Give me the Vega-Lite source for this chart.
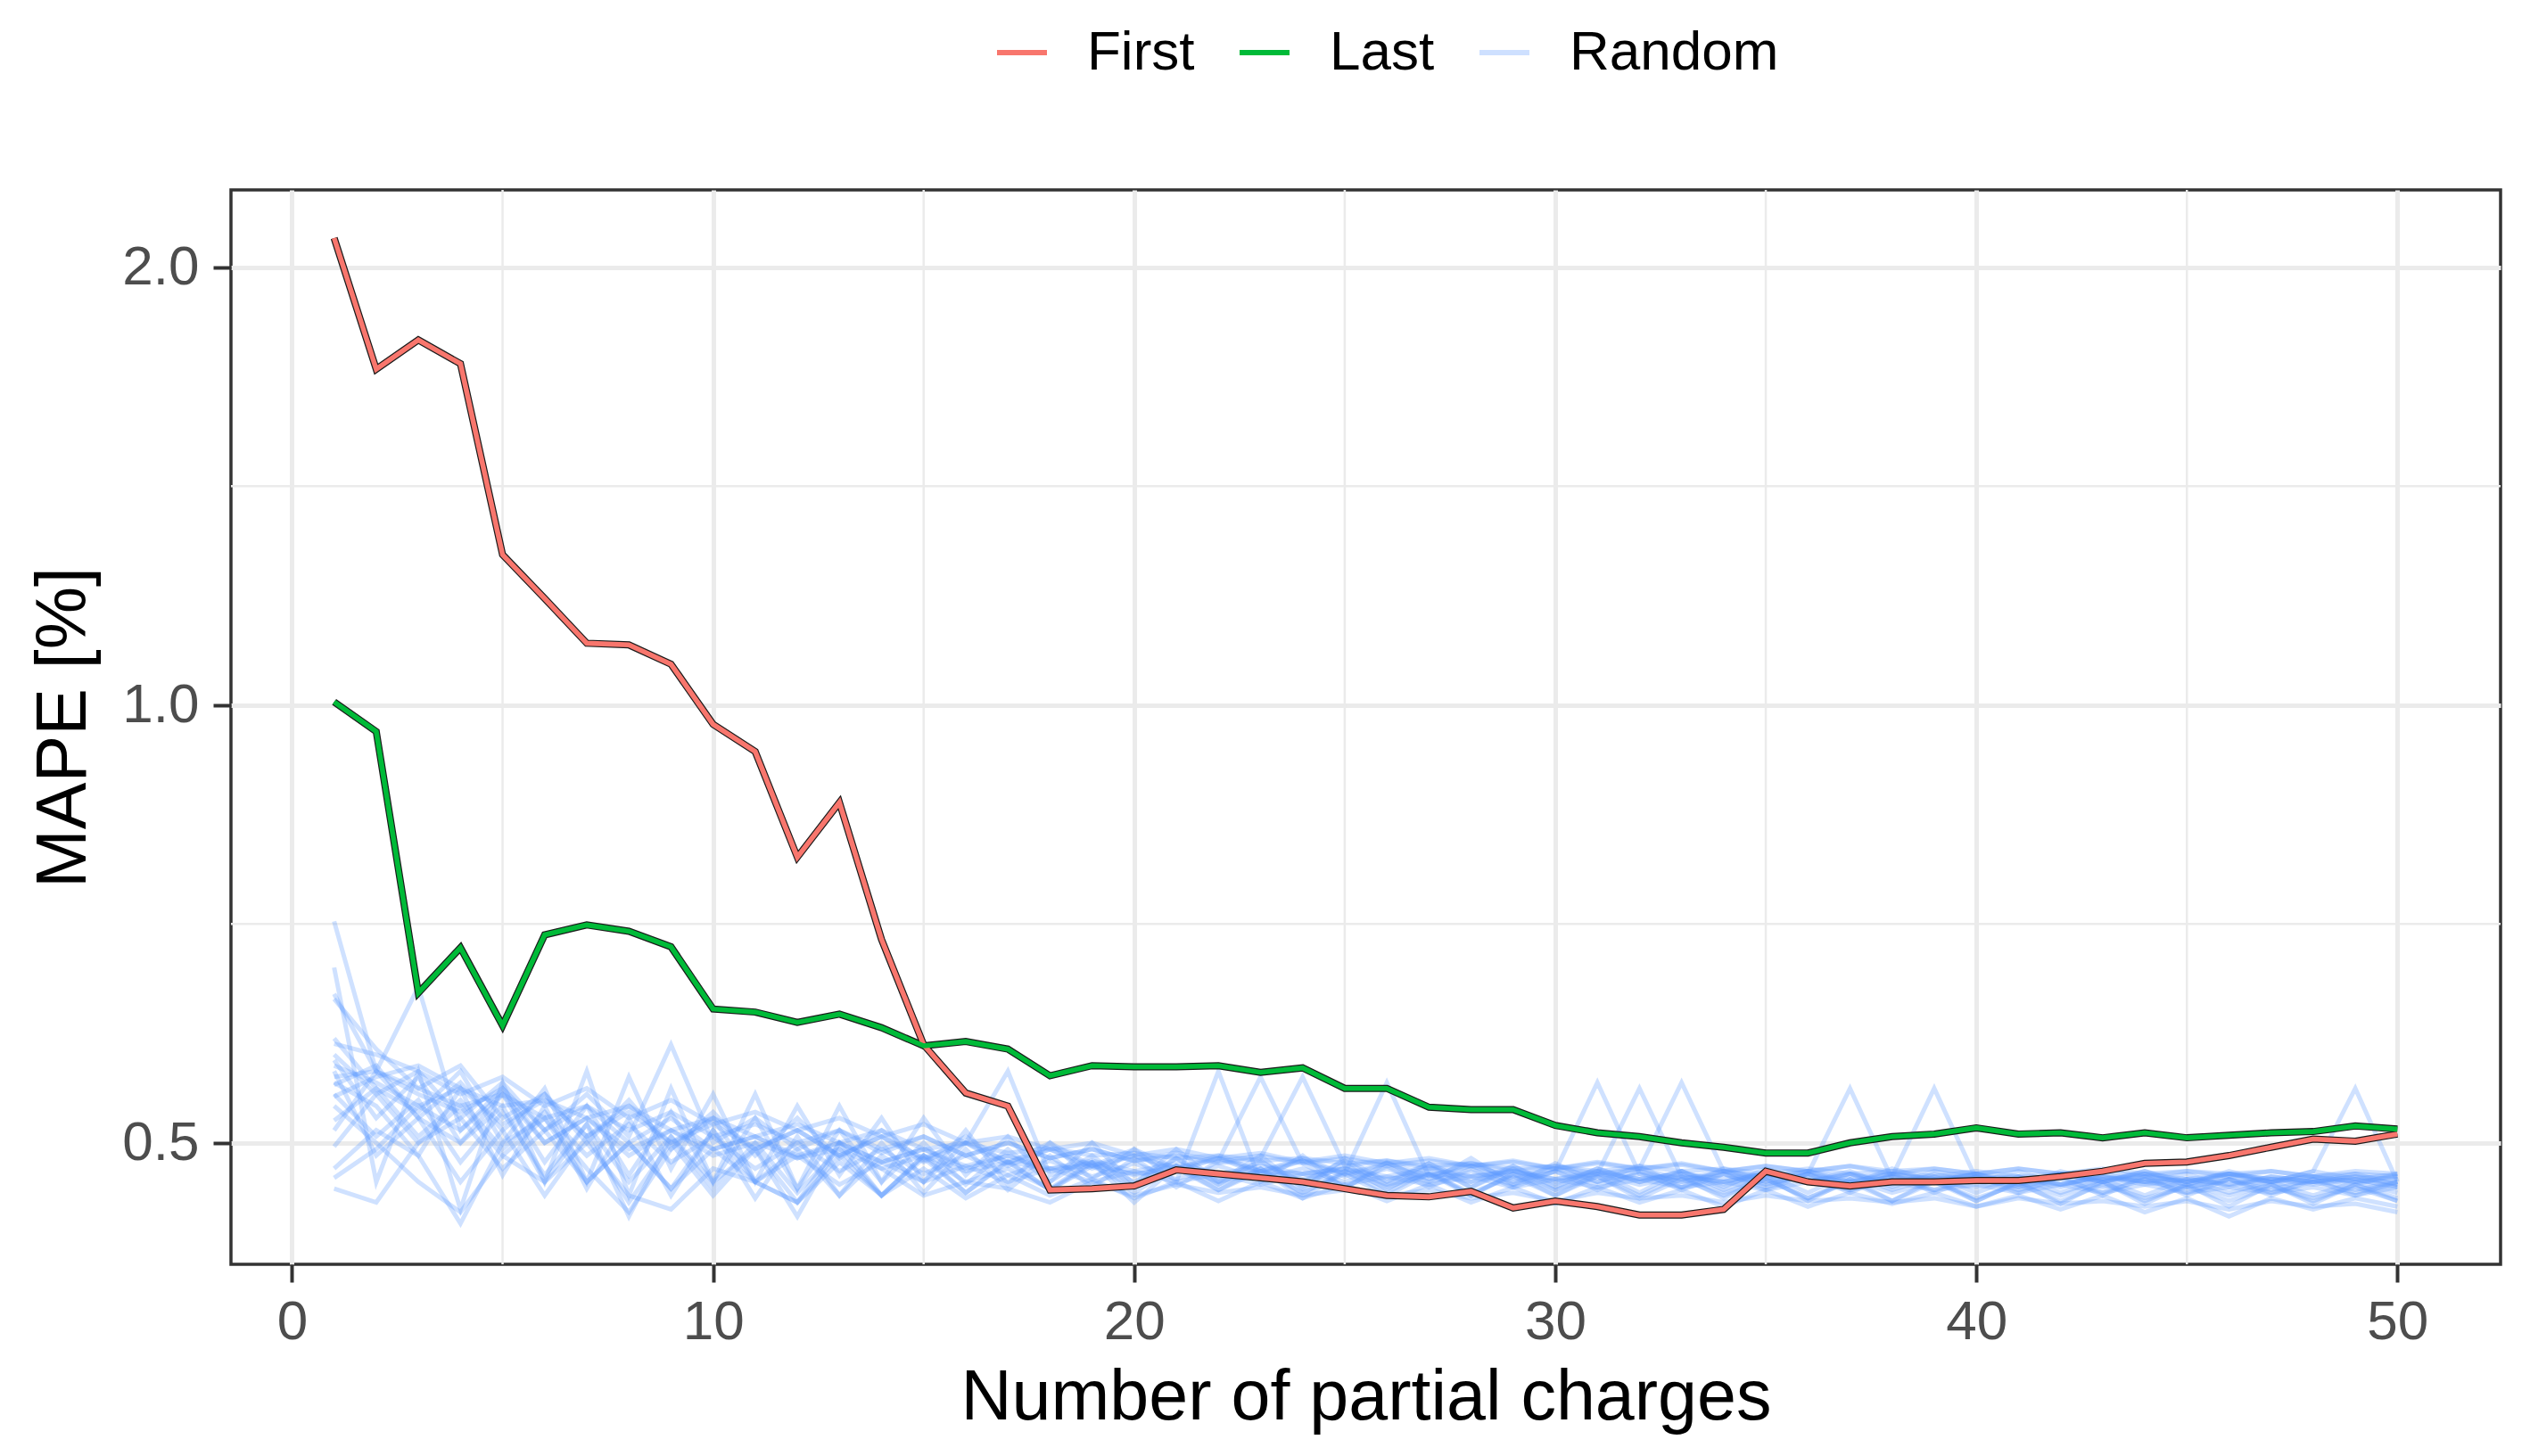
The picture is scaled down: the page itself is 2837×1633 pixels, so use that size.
{
  "$schema": "https://vega.github.io/schema/vega-lite/v6.json",
  "width": 2545,
  "height": 1205,
  "autosize": {"type": "none"},
  "padding": {"left": 259, "top": 213, "right": 33, "bottom": 215},
  "background": "white",
  "datasets": {
    "lines": [
      {"s": "First", "g": "First", "n": [1,2,3,4,5,6,7,8,9,10,11,12,13,14,15,16,17,18,19,20,21,22,23,24,25,26,27,28,29,30,31,32,33,34,35,36,37,38,39,40,41,42,43,44,45,46,47,48,49,50],
       "v": [2.095,1.702,1.783,1.717,1.269,1.184,1.103,1.100,1.067,0.970,0.929,0.786,0.857,0.690,0.584,0.541,0.530,0.464,0.465,0.467,0.479,0.476,0.473,0.470,0.465,0.460,0.459,0.463,0.451,0.456,0.452,0.446,0.446,0.450,0.478,0.470,0.467,0.470,0.470,0.471,0.471,0.474,0.478,0.484,0.485,0.490,0.4965,0.503,0.5013,0.507]},
      {"s": "Last", "g": "Last", "n": [1,2,3,4,5,6,7,8,9,10,11,12,13,14,15,16,17,18,19,20,21,22,23,24,25,26,27,28,29,30,31,32,33,34,35,36,37,38,39,40,41,42,43,44,45,46,47,48,49,50],
       "v": [1.005,0.959,0.634,0.681,0.602,0.695,0.706,0.699,0.682,0.618,0.615,0.605,0.613,0.600,0.583,0.587,0.580,0.556,0.565,0.564,0.564,0.565,0.559,0.563,0.545,0.545,0.529,0.527,0.527,0.514,0.508,0.505,0.500,0.4965,0.492,0.492,0.500,0.505,0.507,0.512,0.507,0.508,0.504,0.508,0.504,0.506,0.508,0.509,0.5135,0.511]},
      {"s": "r01", "g": "Random", "n": [1,2,3,4,5,6,7,8,9,10,11,12,13,14,15,16,17,18,19,20,21,22,23,24,25,26,27,28,29,30,31,32,33,34,35,36,37,38,39,40,41,42,43,44,45,46,47,48,49,50],
       "v": [0.710,0.560,0.540,0.525,0.545,0.510,0.530,0.500,0.520,0.495,0.505,0.490,0.500,0.485,0.495,0.480,0.490,0.478,0.485,0.475,0.482,0.470,0.478,0.472,0.480,0.468,0.475,0.470,0.478,0.472,0.476,0.468,0.474,0.470,0.476,0.472,0.468,0.474,0.470,0.466,0.472,0.468,0.474,0.470,0.466,0.472,0.468,0.470,0.474,0.468]},
      {"s": "r02", "g": "Random", "n": [1,2,3,4,5,6,7,8,9,10,11,12,13,14,15,16,17,18,19,20,21,22,23,24,25,26,27,28,29,30,31,32,33,34,35,36,37,38,39,40,41,42,43,44,45,46,47,48,49,50],
       "v": [0.660,0.470,0.560,0.450,0.550,0.470,0.560,0.460,0.545,0.470,0.540,0.465,0.530,0.470,0.520,0.475,0.505,0.470,0.500,0.468,0.495,0.470,0.490,0.465,0.488,0.470,0.484,0.466,0.482,0.468,0.480,0.470,0.478,0.466,0.480,0.470,0.476,0.468,0.478,0.472,0.474,0.466,0.476,0.470,0.472,0.468,0.474,0.470,0.472,0.466]},
      {"s": "r03", "g": "Random", "n": [1,2,3,4,5,6,7,8,9,10,11,12,13,14,15,16,17,18,19,20,21,22,23,24,25,26,27,28,29,30,31,32,33,34,35,36,37,38,39,40,41,42,43,44,45,46,47,48,49,50],
       "v": [0.633,0.560,0.640,0.510,0.545,0.500,0.520,0.495,0.510,0.490,0.500,0.488,0.495,0.480,0.490,0.478,0.485,0.480,0.482,0.476,0.480,0.474,0.478,0.476,0.480,0.472,0.476,0.474,0.478,0.470,0.476,0.472,0.474,0.470,0.476,0.474,0.470,0.476,0.472,0.474,0.470,0.476,0.472,0.474,0.470,0.476,0.472,0.470,0.474,0.472]},
      {"s": "r04", "g": "Random", "n": [1,2,3,4,5,6,7,8,9,10,11,12,13,14,15,16,17,18,19,20,21,22,23,24,25,26,27,28,29,30,31,32,33,34,35,36,37,38,39,40,41,42,43,44,45,46,47,48,49,50],
       "v": [0.628,0.580,0.545,0.565,0.520,0.540,0.505,0.530,0.500,0.520,0.495,0.510,0.490,0.505,0.488,0.500,0.485,0.495,0.482,0.490,0.480,0.488,0.478,0.486,0.476,0.484,0.475,0.482,0.474,0.480,0.474,0.480,0.472,0.478,0.472,0.478,0.470,0.476,0.470,0.476,0.468,0.476,0.470,0.478,0.470,0.476,0.470,0.478,0.472,0.476]},
      {"s": "r05", "g": "Random", "n": [1,2,3,4,5,6,7,8,9,10,11,12,13,14,15,16,17,18,19,20,21,22,23,24,25,26,27,28,29,30,31,32,33,34,35,36,37,38,39,40,41,42,43,44,45,46,47,48,49,50],
       "v": [0.590,0.545,0.525,0.560,0.500,0.545,0.470,0.555,0.480,0.540,0.470,0.530,0.475,0.520,0.470,0.510,0.468,0.500,0.472,0.495,0.470,0.560,0.470,0.490,0.465,0.485,0.470,0.488,0.468,0.484,0.470,0.482,0.466,0.480,0.470,0.478,0.468,0.480,0.470,0.476,0.466,0.478,0.470,0.476,0.468,0.478,0.470,0.474,0.468,0.476]},
      {"s": "r06", "g": "Random", "n": [1,2,3,4,5,6,7,8,9,10,11,12,13,14,15,16,17,18,19,20,21,22,23,24,25,26,27,28,29,30,31,32,33,34,35,36,37,38,39,40,41,42,43,44,45,46,47,48,49,50],
       "v": [0.585,0.575,0.560,0.540,0.555,0.530,0.545,0.520,0.535,0.515,0.525,0.510,0.520,0.505,0.515,0.500,0.505,0.495,0.500,0.490,0.495,0.488,0.492,0.485,0.490,0.484,0.488,0.482,0.486,0.480,0.485,0.480,0.484,0.478,0.482,0.478,0.482,0.476,0.480,0.476,0.480,0.476,0.478,0.474,0.478,0.474,0.478,0.474,0.476,0.474]},
      {"s": "r07", "g": "Random", "n": [1,2,3,4,5,6,7,8,9,10,11,12,13,14,15,16,17,18,19,20,21,22,23,24,25,26,27,28,29,30,31,32,33,34,35,36,37,38,39,40,41,42,43,44,45,46,47,48,49,50],
       "v": [0.575,0.540,0.500,0.530,0.490,0.520,0.470,0.500,0.465,0.510,0.470,0.495,0.460,0.490,0.470,0.500,0.560,0.475,0.485,0.470,0.488,0.472,0.485,0.470,0.486,0.468,0.484,0.470,0.482,0.466,0.480,0.470,0.478,0.468,0.476,0.470,0.478,0.466,0.476,0.470,0.478,0.468,0.474,0.470,0.476,0.466,0.474,0.470,0.476,0.468]},
      {"s": "r08", "g": "Random", "n": [1,2,3,4,5,6,7,8,9,10,11,12,13,14,15,16,17,18,19,20,21,22,23,24,25,26,27,28,29,30,31,32,33,34,35,36,37,38,39,40,41,42,43,44,45,46,47,48,49,50],
       "v": [0.570,0.520,0.555,0.500,0.540,0.485,0.530,0.475,0.525,0.470,0.520,0.465,0.510,0.470,0.500,0.468,0.495,0.470,0.490,0.466,0.488,0.468,0.486,0.466,0.484,0.464,0.482,0.466,0.480,0.464,0.478,0.462,0.478,0.464,0.476,0.462,0.476,0.464,0.474,0.462,0.474,0.462,0.472,0.460,0.472,0.462,0.470,0.460,0.470,0.462]},
      {"s": "r09", "g": "Random", "n": [1,2,3,4,5,6,7,8,9,10,11,12,13,14,15,16,17,18,19,20,21,22,23,24,25,26,27,28,29,30,31,32,33,34,35,36,37,38,39,40,41,42,43,44,45,46,47,48,49,50],
       "v": [0.565,0.550,0.530,0.545,0.515,0.535,0.505,0.525,0.500,0.515,0.495,0.510,0.490,0.505,0.485,0.500,0.482,0.495,0.480,0.490,0.478,0.488,0.476,0.486,0.474,0.484,0.472,0.482,0.470,0.478,0.550,0.476,0.470,0.478,0.468,0.476,0.545,0.472,0.470,0.476,0.468,0.476,0.470,0.478,0.468,0.476,0.470,0.478,0.545,0.470]},
      {"s": "r10", "g": "Random", "n": [1,2,3,4,5,6,7,8,9,10,11,12,13,14,15,16,17,18,19,20,21,22,23,24,25,26,27,28,29,30,31,32,33,34,35,36,37,38,39,40,41,42,43,44,45,46,47,48,49,50],
       "v": [0.560,0.490,0.520,0.470,0.510,0.460,0.505,0.455,0.500,0.460,0.495,0.455,0.490,0.460,0.488,0.462,0.485,0.464,0.482,0.466,0.480,0.464,0.478,0.462,0.476,0.460,0.476,0.462,0.474,0.460,0.474,0.458,0.472,0.460,0.472,0.458,0.470,0.456,0.470,0.458,0.468,0.456,0.468,0.458,0.466,0.456,0.466,0.458,0.466,0.456]},
      {"s": "r11", "g": "Random", "n": [1,2,3,4,5,6,7,8,9,10,11,12,13,14,15,16,17,18,19,20,21,22,23,24,25,26,27,28,29,30,31,32,33,34,35,36,37,38,39,40,41,42,43,44,45,46,47,48,49,50],
       "v": [0.555,0.560,0.545,0.530,0.540,0.520,0.530,0.510,0.525,0.505,0.515,0.500,0.510,0.495,0.505,0.490,0.500,0.488,0.495,0.486,0.490,0.484,0.488,0.555,0.482,0.486,0.480,0.484,0.478,0.482,0.476,0.480,0.550,0.478,0.474,0.478,0.472,0.476,0.472,0.476,0.470,0.476,0.470,0.474,0.470,0.474,0.470,0.474,0.470,0.472]},
      {"s": "r12", "g": "Random", "n": [1,2,3,4,5,6,7,8,9,10,11,12,13,14,15,16,17,18,19,20,21,22,23,24,25,26,27,28,29,30,31,32,33,34,35,36,37,38,39,40,41,42,43,44,45,46,47,48,49,50],
       "v": [0.550,0.530,0.490,0.545,0.475,0.530,0.465,0.520,0.460,0.510,0.458,0.505,0.460,0.500,0.462,0.495,0.464,0.490,0.466,0.488,0.466,0.486,0.555,0.484,0.466,0.482,0.466,0.480,0.466,0.478,0.464,0.478,0.464,0.476,0.464,0.476,0.462,0.476,0.462,0.474,0.462,0.474,0.460,0.474,0.460,0.472,0.460,0.472,0.460,0.470]},
      {"s": "r13", "g": "Random", "n": [1,2,3,4,5,6,7,8,9,10,11,12,13,14,15,16,17,18,19,20,21,22,23,24,25,26,27,28,29,30,31,32,33,34,35,36,37,38,39,40,41,42,43,44,45,46,47,48,49,50],
       "v": [0.548,0.565,0.520,0.550,0.510,0.540,0.500,0.535,0.495,0.525,0.490,0.520,0.488,0.510,0.486,0.505,0.484,0.500,0.482,0.495,0.480,0.490,0.478,0.488,0.476,0.550,0.474,0.484,0.472,0.480,0.470,0.478,0.470,0.476,0.468,0.476,0.468,0.474,0.545,0.472,0.466,0.474,0.466,0.472,0.466,0.472,0.464,0.472,0.464,0.470]},
      {"s": "r14", "g": "Random", "n": [1,2,3,4,5,6,7,8,9,10,11,12,13,14,15,16,17,18,19,20,21,22,23,24,25,26,27,28,29,30,31,32,33,34,35,36,37,38,39,40,41,42,43,44,45,46,47,48,49,50],
       "v": [0.540,0.505,0.535,0.485,0.525,0.475,0.515,0.470,0.505,0.465,0.500,0.462,0.495,0.460,0.490,0.462,0.486,0.464,0.484,0.462,0.482,0.464,0.480,0.462,0.478,0.462,0.478,0.460,0.476,0.460,0.476,0.545,0.474,0.458,0.474,0.456,0.472,0.456,0.472,0.456,0.470,0.454,0.470,0.454,0.468,0.452,0.468,0.454,0.468,0.456]},
      {"s": "r15", "g": "Random", "n": [1,2,3,4,5,6,7,8,9,10,11,12,13,14,15,16,17,18,19,20,21,22,23,24,25,26,27,28,29,30,31,32,33,34,35,36,37,38,39,40,41,42,43,44,45,46,47,48,49,50],
       "v": [0.538,0.555,0.565,0.545,0.530,0.535,0.520,0.530,0.510,0.520,0.505,0.515,0.500,0.510,0.495,0.500,0.492,0.496,0.490,0.492,0.488,0.490,0.486,0.488,0.484,0.486,0.482,0.484,0.480,0.482,0.478,0.482,0.478,0.480,0.476,0.480,0.476,0.478,0.474,0.478,0.474,0.476,0.472,0.476,0.472,0.476,0.472,0.474,0.470,0.474]},
      {"s": "r16", "g": "Random", "n": [1,2,3,4,5,6,7,8,9,10,11,12,13,14,15,16,17,18,19,20,21,22,23,24,25,26,27,28,29,30,31,32,33,34,35,36,37,38,39,40,41,42,43,44,45,46,47,48,49,50],
       "v": [0.530,0.500,0.470,0.448,0.490,0.470,0.500,0.460,0.450,0.480,0.470,0.455,0.485,0.460,0.480,0.458,0.475,0.460,0.472,0.458,0.470,0.456,0.470,0.458,0.468,0.456,0.468,0.455,0.466,0.454,0.466,0.455,0.464,0.452,0.464,0.452,0.462,0.454,0.462,0.452,0.460,0.450,0.460,0.448,0.458,0.445,0.458,0.450,0.458,0.452]},
      {"s": "r17", "g": "Random", "n": [1,2,3,4,5,6,7,8,9,10,11,12,13,14,15,16,17,18,19,20,21,22,23,24,25,26,27,28,29,30,31,32,33,34,35,36,37,38,39,40,41,42,43,44,45,46,47,48,49,50],
       "v": [0.518,0.545,0.505,0.535,0.495,0.525,0.490,0.515,0.485,0.505,0.480,0.500,0.478,0.495,0.476,0.490,0.475,0.486,0.474,0.484,0.472,0.482,0.472,0.480,0.470,0.480,0.470,0.478,0.468,0.478,0.468,0.476,0.466,0.476,0.466,0.476,0.464,0.474,0.464,0.474,0.464,0.472,0.462,0.472,0.462,0.472,0.462,0.470,0.462,0.470]},
      {"s": "r18", "g": "Random", "n": [1,2,3,4,5,6,7,8,9,10,11,12,13,14,15,16,17,18,19,20,21,22,23,24,25,26,27,28,29,30,31,32,33,34,35,36,37,38,39,40,41,42,43,44,45,46,47,48,49,50],
       "v": [0.510,0.560,0.520,0.500,0.530,0.470,0.515,0.445,0.505,0.470,0.495,0.445,0.500,0.460,0.490,0.470,0.480,0.465,0.485,0.455,0.482,0.468,0.480,0.458,0.478,0.466,0.476,0.460,0.476,0.464,0.474,0.460,0.474,0.462,0.472,0.458,0.472,0.462,0.470,0.456,0.470,0.460,0.470,0.456,0.468,0.460,0.468,0.456,0.468,0.458]},
      {"s": "r19", "g": "Random", "n": [1,2,3,4,5,6,7,8,9,10,11,12,13,14,15,16,17,18,19,20,21,22,23,24,25,26,27,28,29,30,31,32,33,34,35,36,37,38,39,40,41,42,43,44,45,46,47,48,49,50],
       "v": [0.497,0.540,0.560,0.520,0.550,0.510,0.540,0.505,0.584,0.500,0.520,0.495,0.510,0.492,0.505,0.490,0.500,0.488,0.495,0.486,0.492,0.485,0.490,0.484,0.488,0.482,0.486,0.482,0.485,0.480,0.484,0.480,0.483,0.478,0.482,0.478,0.482,0.478,0.480,0.476,0.480,0.476,0.480,0.476,0.478,0.476,0.478,0.474,0.478,0.476]},
      {"s": "r20", "g": "Random", "n": [1,2,3,4,5,6,7,8,9,10,11,12,13,14,15,16,17,18,19,20,21,22,23,24,25,26,27,28,29,30,31,32,33,34,35,36,37,38,39,40,41,42,43,44,45,46,47,48,49,50],
       "v": [0.480,0.510,0.490,0.440,0.500,0.520,0.480,0.448,0.495,0.520,0.470,0.455,0.500,0.480,0.460,0.470,0.465,0.455,0.470,0.460,0.468,0.462,0.466,0.460,0.464,0.460,0.464,0.458,0.462,0.456,0.462,0.458,0.460,0.455,0.460,0.456,0.458,0.455,0.458,0.452,0.458,0.454,0.456,0.452,0.456,0.450,0.456,0.452,0.454,0.448]},
      {"s": "r21", "g": "Random", "n": [1,2,3,4,5,6,7,8,9,10,11,12,13,14,15,16,17,18,19,20,21,22,23,24,25,26,27,28,29,30,31,32,33,34,35,36,37,38,39,40,41,42,43,44,45,46,47,48,49,50],
       "v": [0.473,0.495,0.530,0.510,0.540,0.500,0.520,0.490,0.510,0.495,0.505,0.488,0.500,0.485,0.495,0.482,0.490,0.480,0.486,0.478,0.484,0.476,0.482,0.476,0.480,0.474,0.480,0.474,0.478,0.472,0.478,0.472,0.476,0.472,0.476,0.470,0.476,0.470,0.474,0.470,0.474,0.468,0.474,0.468,0.472,0.468,0.472,0.468,0.472,0.466]},
      {"s": "r22", "g": "Random", "n": [1,2,3,4,5,6,7,8,9,10,11,12,13,14,15,16,17,18,19,20,21,22,23,24,25,26,27,28,29,30,31,32,33,34,35,36,37,38,39,40,41,42,43,44,45,46,47,48,49,50],
       "v": [0.465,0.455,0.500,0.520,0.480,0.510,0.470,0.500,0.465,0.495,0.470,0.490,0.468,0.485,0.470,0.482,0.470,0.480,0.470,0.478,0.470,0.476,0.468,0.476,0.468,0.474,0.468,0.474,0.466,0.472,0.466,0.472,0.466,0.470,0.464,0.470,0.464,0.470,0.464,0.468,0.462,0.468,0.462,0.468,0.462,0.466,0.462,0.466,0.460,0.466]}
    ],
    "gridx": [{"gx": 5}, {"gx": 15}, {"gx": 25}, {"gx": 35}, {"gx": 45}],
    "gridy": [{"gy": 0.70711}, {"gy": 1.41421}]
  },
  "layer": [
    {
      "data": {"name": "gridx"},
      "mark": {"type": "rule", "color": "#EBEBEB", "strokeWidth": 2.5},
      "encoding": {"x": {"field": "gx", "type": "quantitative", "scale": {"domain": [-1.45, 52.45], "nice": false, "zero": false}}}
    },
    {
      "data": {"name": "gridy"},
      "mark": {"type": "rule", "color": "#EBEBEB", "strokeWidth": 2.5},
      "encoding": {"y": {"field": "gy", "type": "quantitative", "scale": {"type": "log", "domain": [0.4125, 2.261], "nice": false, "zero": false}}}
    },
    {
      "data": {"name": "lines"},
      "transform": [{"flatten": ["n", "v"]}, {"filter": "datum.g === 'Random'"}],
      "mark": {"type": "line", "strokeWidth": 5, "opacity": 0.3},
      "encoding": {
        "x": {"field": "n", "type": "quantitative"},
        "y": {"field": "v", "type": "quantitative"},
        "detail": {"field": "s"},
        "color": {"field": "g", "type": "nominal"}
      }
    },
    {
      "data": {"name": "lines"},
      "transform": [{"flatten": ["n", "v"]}, {"filter": "datum.g !== 'Random'"}],
      "mark": {"type": "line", "strokeWidth": 8, "color": "#1a1a1a"},
      "encoding": {
        "x": {"field": "n", "type": "quantitative"},
        "y": {"field": "v", "type": "quantitative"},
        "detail": {"field": "s"}
      }
    },
    {
      "data": {"name": "lines"},
      "transform": [{"flatten": ["n", "v"]}, {"filter": "datum.g !== 'Random'"}],
      "mark": {"type": "line", "strokeWidth": 5.6},
      "encoding": {
        "x": {
          "field": "n", "type": "quantitative",
          "axis": {"title": "Number of partial charges", "values": [0, 10, 20, 30, 40, 50], "format": "d", "labelPadding": 14, "titlePadding": 16}
        },
        "y": {
          "field": "v", "type": "quantitative",
          "axis": {"title": "MAPE [%]", "values": [0.5, 1, 2], "format": ".1f", "labelPadding": 16, "titlePadding": 24}
        },
        "detail": {"field": "s"},
        "color": {
          "field": "g", "type": "nominal",
          "scale": {"domain": ["First", "Last", "Random"], "range": ["#F8766D", "#00BA38", "#619CFF"]},
          "legend": {
            "title": null,
            "orient": "none",
            "direction": "horizontal",
            "legendX": 856,
            "legendY": -185,
            "symbolType": "stroke",
            "symbolSize": 3136,
            "symbolStrokeWidth": 6,
            "labelFont": "Liberation Sans",
            "labelFontSize": 62,
            "labelColor": "#000000",
            "labelLimit": 0,
            "labelOffset": 42,
            "columnPadding": 38,
            "encode": {"symbols": {"update": {"opacity": {"signal": "datum.value === 'Random' ? 0.3 : 1"}}}}
          }
        }
      }
    }
  ],
  "config": {
    "font": "Liberation Sans",
    "view": {"stroke": "#333333", "strokeWidth": 3.5},
    "axis": {
      "domain": false,
      "grid": true,
      "gridColor": "#EBEBEB",
      "gridWidth": 5,
      "tickColor": "#333333",
      "tickWidth": 4,
      "tickSize": 20,
      "labelFont": "Liberation Sans",
      "labelFontSize": 62,
      "labelColor": "#4D4D4D",
      "titleFont": "Liberation Sans",
      "titleFontSize": 79,
      "titleFontWeight": "normal",
      "titleColor": "#000000"
    }
  }
}
